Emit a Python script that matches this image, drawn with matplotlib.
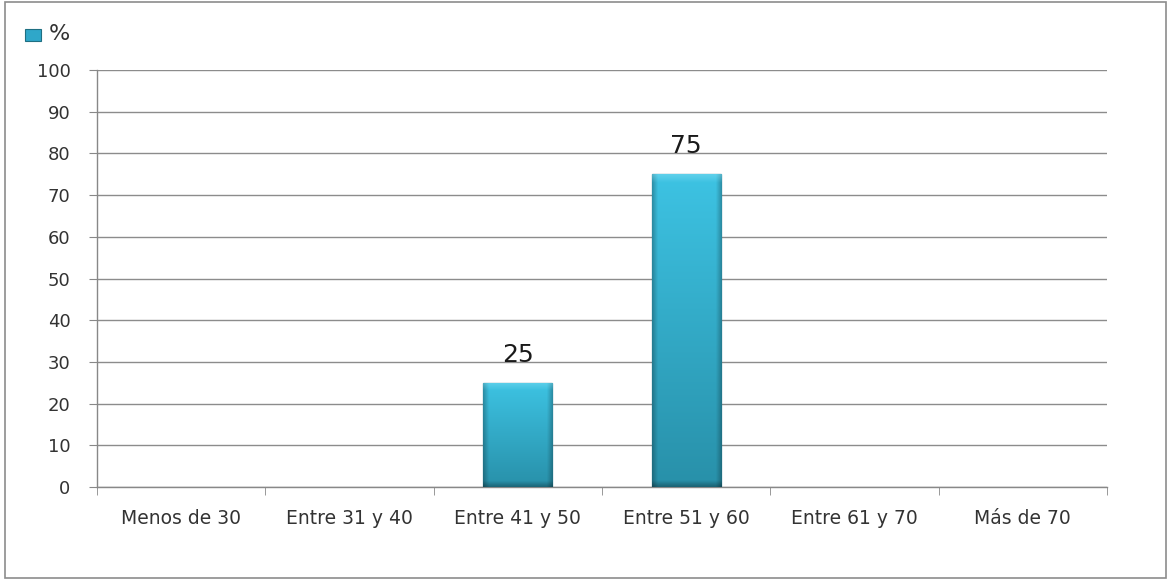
import matplotlib
matplotlib.use("Agg")
import matplotlib.pyplot as plt
import numpy as np
from matplotlib.patches import Rectangle
from matplotlib.colors import to_rgb

plt.rcParams["font.family"] = ["DejaVu Sans"]

categories = ["Menos de 30", "Entre 31 y 40", "Entre 41 y 50", "Entre 51 y 60", "Entre 61 y 70", "Más de 70"]
values = [0, 0, 25, 75, 0, 0]
series_name = "%"
yticks = list(range(0, 101, 10))

fig = plt.figure(figsize=(11.71, 5.8), dpi=100)
fig.patch.set_facecolor("white")
fig.add_artist(Rectangle((0.004, 0.004), 0.992, 0.992, transform=fig.transFigure,
                         fill=False, edgecolor="#8c8c8c", linewidth=1.2))

ax = fig.add_axes([0.0828, 0.1603, 0.8625, 0.719])
x = np.arange(len(categories))
bars = ax.bar(x, values, width=0.41, color="#2fa7c9", edgecolor="#1f6f82", linewidth=0.9, zorder=3)

top_c = np.array(to_rgb("#3dc3e3"))
bot_c = np.array(to_rgb("#2890a9"))
for b, v in zip(bars, values):
    if v <= 0:
        b.set_visible(False)
        continue
    x0, w, h = b.get_x(), b.get_width(), b.get_height()
    ny, nx = 200, 60
    t = np.linspace(0, 1, ny)[:, None, None]
    img = bot_c * (1 - t) + top_c * t
    img = np.repeat(img, nx, axis=1)
    xs = np.linspace(0, 1, nx)
    edge = np.clip(1 - np.minimum(xs, 1 - xs) / 0.08, 0, 1)
    img = img * (1 - 0.25 * edge[None, :, None])
    px_per_unit = 417 / 100
    bevel = 8 / px_per_unit / h
    yy = np.linspace(0, 1, ny)
    bev = np.clip((yy - (1 - bevel)) / bevel, 0, 1)[:, None, None]
    img = img * (1 - 0.4 * bev) + 0.4 * bev * np.array(to_rgb("#8fe3f5"))
    bb = 6 / px_per_unit / h
    bd = np.clip((bb - yy) / bb, 0, 1)[:, None, None]
    img = img * (1 - 0.3 * bd)
    img = np.clip(img, 0, 1)
    im = ax.imshow(img, extent=[x0, x0 + w, 0, h], aspect="auto", origin="lower",
                   zorder=3.5, interpolation="bilinear")
    im.set_clip_path(b)
    ax.text(x0 + w / 2, v + 3.8, f"{v}", ha="center", va="bottom", fontsize=18,
            color="#1a1a1a", zorder=5, family="DejaVu Sans")

ax.set_xlim(-0.5, len(categories) - 0.5)
ax.set_ylim(0, 100)
ax.set_yticks(yticks)
ax.set_yticklabels([str(t) for t in yticks], fontsize=13, color="#333333")
ax.set_xticks(x)
ax.set_xticklabels(categories, fontsize=13.5, color="#333333")
ax.tick_params(axis="x", length=0, pad=16)
ax.set_xticks(np.arange(-0.5, len(categories), 1), minor=True)
ax.tick_params(axis="x", which="minor", length=6, color="#888888", direction="out")
ax.tick_params(axis="y", length=6, color="#888888", direction="out", pad=13)
ax.grid(axis="y", color="#8c8c8c", linewidth=1, zorder=0)
for s in ["top", "right"]:
    ax.spines[s].set_visible(False)
for s in ["left", "bottom"]:
    ax.spines[s].set_color("#888888")
    ax.spines[s].set_linewidth(1)

fig.add_artist(Rectangle((25 / 1171, 1 - 41 / 580), 16 / 1171, 12 / 580, transform=fig.transFigure,
                         facecolor="#2fa7c9", edgecolor="#1f6f82", linewidth=0.8))
fig.text(49 / 1171, 1 - 34 / 580, series_name, fontsize=16, va="center", ha="left", color="#333333")

fig.savefig("out.png", dpi=100)
